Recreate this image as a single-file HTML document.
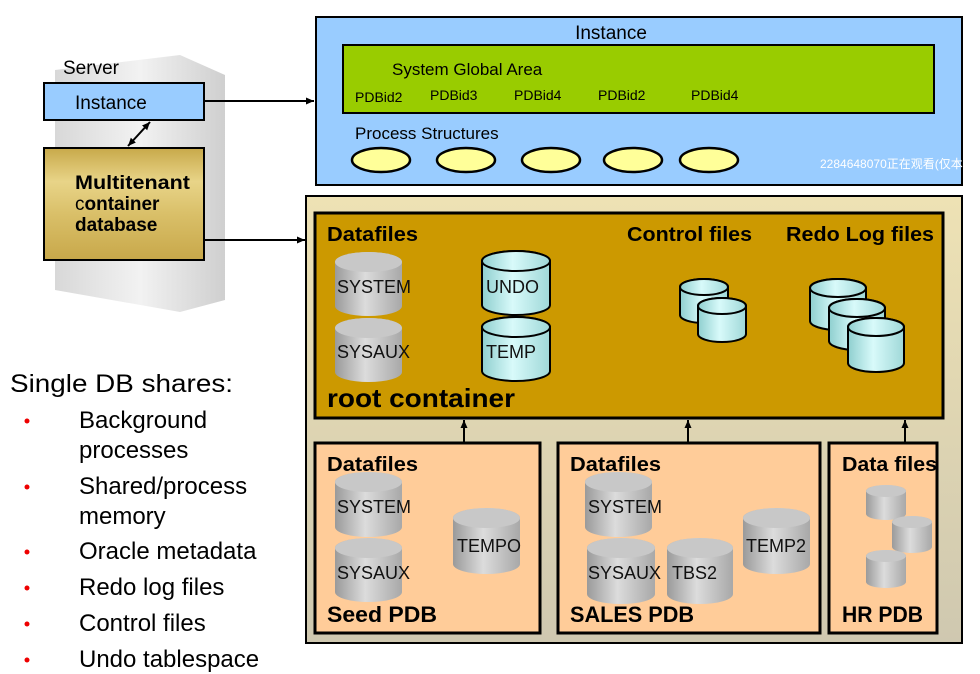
<!DOCTYPE html>
<html><head><meta charset="utf-8"><style>
html,body{margin:0;padding:0;background:#fff;}
svg{display:block;font-family:"Liberation Sans","Noto Sans CJK SC",sans-serif;}
</style></head><body>
<svg width="980" height="674" viewBox="0 0 980 674" xmlns="http://www.w3.org/2000/svg">
<defs>
<linearGradient id="gr" x1="0" x2="1" y1="0" y2="0"><stop offset="0" stop-color="#9a9a9a"/><stop offset="0.45" stop-color="#dcdcdc"/><stop offset="1" stop-color="#a8a8a8"/></linearGradient>
<linearGradient id="cy" x1="0" x2="1" y1="0" y2="0"><stop offset="0" stop-color="#8fcfcf"/><stop offset="0.45" stop-color="#d8fafa"/><stop offset="1" stop-color="#9fd8d8"/></linearGradient>
<linearGradient id="gold" x1="0" x2="0" y1="0" y2="1"><stop offset="0" stop-color="#c8a94a"/><stop offset="0.3" stop-color="#e8d488"/><stop offset="0.6" stop-color="#d9bf68"/><stop offset="1" stop-color="#c8a84a"/></linearGradient>
<linearGradient id="srv" x1="0" x2="1" y1="0" y2="0"><stop offset="0" stop-color="#d8d8d8"/><stop offset="0.5" stop-color="#f2f2f2"/><stop offset="1" stop-color="#cfcfcf"/></linearGradient>
<linearGradient id="outer" x1="0" x2="0" y1="0" y2="1"><stop offset="0" stop-color="#eee2b4"/><stop offset="1" stop-color="#cfc8b0"/></linearGradient>
<marker id="ar" markerWidth="9" markerHeight="9" refX="8" refY="4.5" orient="auto" markerUnits="userSpaceOnUse"><path d="M0,1 L8,4.5 L0,8 Z" fill="#000"/></marker>
<marker id="ar2" markerWidth="9" markerHeight="9" refX="1" refY="4.5" orient="auto" markerUnits="userSpaceOnUse"><path d="M9,1 L1,4.5 L9,8 Z" fill="#000"/></marker>
</defs>

<!-- server -->
<path d="M55,70 L180,55 L225,75 L225,300 L180,312 L55,290 Z" fill="url(#srv)"/>
<text x="63" y="74" font-size="19">Server</text>
<rect x="44" y="83" width="160" height="37" fill="#99ccff" stroke="#000" stroke-width="2"/>
<text x="75" y="109" font-size="19">Instance</text>
<line x1="128" y1="146" x2="150" y2="122" stroke="#000" stroke-width="2" marker-end="url(#ar)" marker-start="url(#ar2)"/>
<rect x="44" y="148" width="160" height="112" fill="url(#gold)" stroke="#000" stroke-width="2"/>
<text font-size="19" font-weight="bold"><tspan x="75" y="189" textLength="115" lengthAdjust="spacingAndGlyphs">Multitenant</tspan><tspan x="75" y="210" font-weight="normal">c</tspan><tspan font-weight="bold">ontainer</tspan><tspan x="75" y="231">database</tspan></text>
<line x1="204" y1="101" x2="314" y2="101" stroke="#000" stroke-width="2" marker-end="url(#ar)"/>
<line x1="204" y1="240" x2="305" y2="240" stroke="#000" stroke-width="2" marker-end="url(#ar)"/>

<!-- left text -->
<text x="10" y="392" font-size="25" textLength="223" lengthAdjust="spacingAndGlyphs">Single DB shares:</text>
<g font-size="24">
<text x="79" y="428">Background</text><text x="79" y="458">processes</text>
<text x="79" y="494">Shared/process</text><text x="79" y="524">memory</text>
<text x="79" y="559">Oracle metadata</text>
<text x="79" y="595">Redo log files</text>
<text x="79" y="631">Control files</text>
<text x="79" y="667">Undo tablespace</text>
</g>
<g fill="#e00">
<circle cx="27" cy="421" r="2.5"/><circle cx="27" cy="487" r="2.5"/><circle cx="27" cy="552" r="2.5"/><circle cx="27" cy="588" r="2.5"/><circle cx="27" cy="624" r="2.5"/><circle cx="27" cy="660" r="2.5"/>
</g>

<!-- instance -->
<rect x="316" y="17" width="646" height="168" fill="#99ccff" stroke="#000" stroke-width="2"/>
<text x="611" y="39" font-size="19" text-anchor="middle">Instance</text>
<rect x="343" y="45" width="591" height="68" fill="#99cc00" stroke="#000" stroke-width="2"/>
<text x="392" y="75" font-size="17">System Global Area</text>
<g font-size="14"><text x="355" y="102">PDBid2</text><text x="430" y="100">PDBid3</text><text x="514" y="100">PDBid4</text><text x="598" y="100">PDBid2</text><text x="691" y="100">PDBid4</text></g>
<text x="355" y="139" font-size="17">Process Structures</text>
<g fill="#ffff99" stroke="#000" stroke-width="2.5">
<ellipse cx="381" cy="160" rx="29" ry="12"/><ellipse cx="466" cy="160" rx="29" ry="12"/><ellipse cx="551" cy="160" rx="29" ry="12"/><ellipse cx="633" cy="160" rx="29" ry="12"/><ellipse cx="709" cy="160" rx="29" ry="12"/>
</g>
<text x="820" y="168" font-size="12" fill="#fff">2284648070正在观看(仅本人</text>

<!-- DB -->
<rect x="306" y="196" width="656" height="447" fill="url(#outer)" stroke="#000" stroke-width="2"/>
<rect x="315" y="213" width="628" height="205" fill="#cc9900" stroke="#000" stroke-width="3"/>
<rect x="315" y="443" width="225" height="190" fill="#ffcc99" stroke="#000" stroke-width="3"/>
<rect x="558" y="443" width="262" height="190" fill="#ffcc99" stroke="#000" stroke-width="3"/>
<rect x="829" y="443" width="108" height="190" fill="#ffcc99" stroke="#000" stroke-width="3"/>
<g stroke="#000" stroke-width="2"><line x1="464" y1="443" x2="464" y2="420" marker-end="url(#ar)"/><line x1="688" y1="443" x2="688" y2="420" marker-end="url(#ar)"/><line x1="905" y1="443" x2="905" y2="420" marker-end="url(#ar)"/></g>

<g font-weight="bold" font-size="20">
<text x="327" y="241" textLength="91" lengthAdjust="spacingAndGlyphs">Datafiles</text>
<text x="627" y="241" textLength="125" lengthAdjust="spacingAndGlyphs">Control files</text>
<text x="786" y="241" textLength="148" lengthAdjust="spacingAndGlyphs">Redo Log files</text>
<text x="327" y="407" font-size="26" textLength="188" lengthAdjust="spacingAndGlyphs">root container</text>
<text x="327" y="471" textLength="91" lengthAdjust="spacingAndGlyphs">Datafiles</text>
<text x="570" y="471" textLength="91" lengthAdjust="spacingAndGlyphs">Datafiles</text>
<text x="842" y="471" textLength="95" lengthAdjust="spacingAndGlyphs">Data files</text>
<text x="327" y="622" font-size="22" textLength="110" lengthAdjust="spacingAndGlyphs">Seed PDB</text>
<text x="570" y="622" font-size="22" textLength="124" lengthAdjust="spacingAndGlyphs">SALES PDB</text>
<text x="842" y="622" font-size="22" textLength="81" lengthAdjust="spacingAndGlyphs">HR PDB</text>
</g>

<!-- cylinders: gray -->
<g fill="url(#gr)">
<path d="M335,262 A33.5,10 0 0 1 402,262 V306 A33.5,10 0 0 1 335,306 Z"/><ellipse cx="368.5" cy="262" rx="33.5" ry="10" fill="#c8c8c8"/>
<path d="M335,328 A33.5,10 0 0 1 402,328 V372 A33.5,10 0 0 1 335,372 Z"/><ellipse cx="368.5" cy="328" rx="33.5" ry="10" fill="#c8c8c8"/>
<path d="M335,482 A33.5,10 0 0 1 402,482 V527 A33.5,10 0 0 1 335,527 Z"/><ellipse cx="368.5" cy="482" rx="33.5" ry="10" fill="#c8c8c8"/>
<path d="M335,548 A33.5,10 0 0 1 402,548 V592 A33.5,10 0 0 1 335,592 Z"/><ellipse cx="368.5" cy="548" rx="33.5" ry="10" fill="#c8c8c8"/>
<path d="M453,518 A33.5,10 0 0 1 520,518 V564 A33.5,10 0 0 1 453,564 Z"/><ellipse cx="486.5" cy="518" rx="33.5" ry="10" fill="#c8c8c8"/>
<path d="M585,482 A33.5,10 0 0 1 652,482 V527 A33.5,10 0 0 1 585,527 Z"/><ellipse cx="618.5" cy="482" rx="33.5" ry="10" fill="#c8c8c8"/>
<path d="M587,548 A34,10 0 0 1 655,548 V594 A34,10 0 0 1 587,594 Z"/><ellipse cx="621" cy="548" rx="34" ry="10" fill="#c8c8c8"/>
<path d="M667,548 A33,10 0 0 1 733,548 V594 A33,10 0 0 1 667,594 Z"/><ellipse cx="700" cy="548" rx="33" ry="10" fill="#c8c8c8"/>
<path d="M743,518 A33.5,10 0 0 1 810,518 V564 A33.5,10 0 0 1 743,564 Z"/><ellipse cx="776.5" cy="518" rx="33.5" ry="10" fill="#c8c8c8"/>
<path d="M866,491 A20,6 0 0 1 906,491 V514 A20,6 0 0 1 866,514 Z"/><ellipse cx="886" cy="491" rx="20" ry="6" fill="#c8c8c8"/>
<path d="M892,522 A20,6 0 0 1 932,522 V547 A20,6 0 0 1 892,547 Z"/><ellipse cx="912" cy="522" rx="20" ry="6" fill="#c8c8c8"/>
<path d="M866,556 A20,6 0 0 1 906,556 V582 A20,6 0 0 1 866,582 Z"/><ellipse cx="886" cy="556" rx="20" ry="6" fill="#c8c8c8"/>
</g>
<!-- cyan -->
<g fill="url(#cy)" stroke="#000" stroke-width="2">
<path d="M482,261 A34,10 0 0 1 550,261 V305 A34,10 0 0 1 482,305 Z"/><ellipse cx="516" cy="261" rx="34" ry="10"/>
<path d="M482,327 A34,10 0 0 1 550,327 V371 A34,10 0 0 1 482,371 Z"/><ellipse cx="516" cy="327" rx="34" ry="10"/>
<path d="M680,287 A24,8 0 0 1 728,287 V315 A24,8 0 0 1 680,315 Z"/><ellipse cx="704" cy="287" rx="24" ry="8"/>
<path d="M698,306 A24,8 0 0 1 746,306 V334 A24,8 0 0 1 698,334 Z"/><ellipse cx="722" cy="306" rx="24" ry="8"/>
<path d="M810,288 A28,9 0 0 1 866,288 V321 A28,9 0 0 1 810,321 Z"/><ellipse cx="838" cy="288" rx="28" ry="9"/>
<path d="M829,308 A28,9 0 0 1 885,308 V341 A28,9 0 0 1 829,341 Z"/><ellipse cx="857" cy="308" rx="28" ry="9"/>
<path d="M848,327 A28,9 0 0 1 904,327 V363 A28,9 0 0 1 848,363 Z"/><ellipse cx="876" cy="327" rx="28" ry="9"/>
</g>
<g font-size="18" fill="#111">
<text x="337" y="293">SYSTEM</text><text x="337" y="358">SYSAUX</text>
<text x="486" y="293">UNDO</text><text x="486" y="358">TEMP</text>
<text x="337" y="513">SYSTEM</text><text x="337" y="579">SYSAUX</text><text x="457" y="552">TEMPO</text>
<text x="588" y="513">SYSTEM</text><text x="588" y="579">SYSAUX</text><text x="672" y="579">TBS2</text><text x="746" y="552">TEMP2</text>
</g>
</svg>
</body></html>
